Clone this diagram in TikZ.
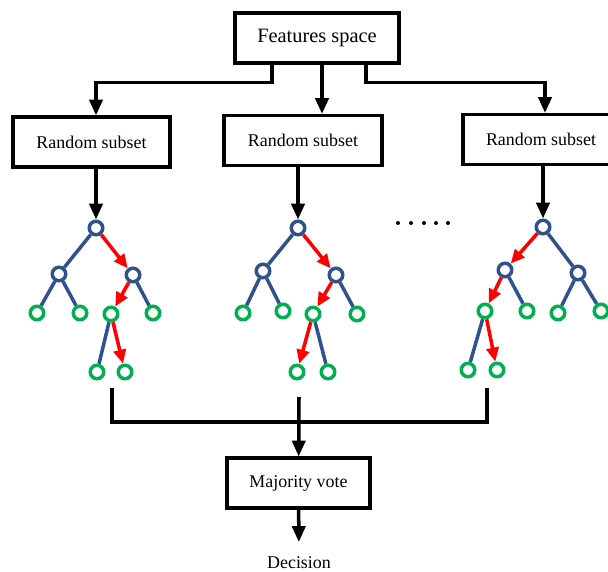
\documentclass[tikz,border=0pt]{standalone}
\usepackage{fontspec}
\setmainfont{Liberation Serif}
\usetikzlibrary{arrows.meta, positioning}
\definecolor{treeblue}{RGB}{47,82,143}
\definecolor{leafgreen}{RGB}{0,176,80}
\definecolor{pathred}{RGB}{255,0,0}

\tikzset{
  box/.style={draw, line width=1.8pt, minimum height=1cm, inner sep=0pt, font=\fontsize{10.2}{12}\selectfont},
  arrow/.style={line width=2pt, -{Triangle[width=7.5pt, length=9pt]}},
  conn/.style={line width=2pt},
  inode/.style={circle, draw=treeblue, line width=2pt, minimum size=0.27cm, inner sep=0pt},
  leaf/.style={circle, draw=leafgreen, line width=2pt, minimum size=0.27cm, inner sep=0pt},
  branch/.style={treeblue, line width=2pt},
  redpath/.style={pathred, line width=2pt, -{Triangle[width=7pt, length=8pt]}}
}

\begin{document}
\begin{tikzpicture}[x=0.02cm, y=-0.02cm]
  \useasboundingbox (0,0) rectangle (608,571);
  % Boxes
  \node[box, minimum width=3.28cm, font=\fontsize{11.6}{14}\selectfont] (feat) at (317,38) {Features space};
  \node[box, minimum width=3.14cm] (sub1) at (91.5,142) {Random subset};
  \node[box, minimum width=3.16cm] (sub2) at (303,140.5) {Random subset};
  \node[box, minimum width=3.12cm] (sub3) at (541,139.5) {Random subset};
  \node[box, minimum width=2.86cm] (vote) at (298.5,483) {Majority vote};
  \node[font=\fontsize{10.2}{12}\selectfont] (dec) at (299,563) {Decision};

  % Tree nodes
  \foreach \n/\x/\y in {t1r/96/228, t1a/59/274, t1b/133/275,
                        t2r/298/228, t2a/263/271, t2b/336/275,
                        t3r/543/227, t3a/505/270, t3b/578/273}
    \node[inode] (\n) at (\x,\y) {};
  \foreach \n/\x/\y in {t1c/37/313, t1d/80/313, t1e/111/314, t1f/153/313, t1g/97/372, t1h/125/372,
                        t2c/243/313, t2d/283/311, t2e/313/314, t2f/357/314, t2g/297/372, t2h/328/372,
                        t3c/485/311, t3d/527/311, t3e/558/313, t3f/601/311, t3g/468/370, t3h/497/370}
    \node[leaf] (\n) at (\x,\y) {};

  % Branches
  \foreach \a/\b in {t1r/t1a, t1a/t1c, t1a/t1d, t1b/t1f, t1e/t1g,
                     t2r/t2a, t2a/t2c, t2a/t2d, t2b/t2f, t2e/t2h,
                     t3r/t3b, t3b/t3e, t3b/t3f, t3a/t3d, t3c/t3g}
    \draw[branch] (\a) -- (\b);
  % Decision paths
  \foreach \a/\b in {t1r/t1b, t1b/t1e, t1e/t1h,
                     t2r/t2b, t2b/t2e, t2e/t2g,
                     t3r/t3a, t3a/t3c, t3c/t3h}
    \draw[redpath] (\a) -- (\b);

  % Feature space to subsets
  \draw[arrow] ([xshift=-0.9cm]feat.south) -- ++(0,18) -| (t1r |- sub1.north);
  \draw[arrow] ([xshift=0.1cm]feat.south) -- ([xshift=0.1cm]feat.south |- sub2.north);
  \draw[arrow] ([xshift=0.98cm]feat.south) -- ++(0,18) -| ([xshift=0.08cm]sub3.north);

  % Subsets to trees
  \draw[arrow] (t1r |- sub1.south) -- (t1r);
  \draw[arrow] (t2r |- sub2.south) -- (t2r);
  \draw[arrow] (t3r |- sub3.south) -- (t3r);

  % Dots
  \foreach \x in {398,411,424,436,448}
    \fill (\x,223) circle (2);

  % Collect to vote
  \coordinate (c1) at (112,388);
  \coordinate (c2) at (299,397);
  \coordinate (cm) at (299,422);
  \coordinate (c3) at (487,388);
  \draw[conn] (c1) |- (cm) -| (c3);
  \draw[arrow] (c2) -- (vote);
  \draw[arrow, shorten >=5pt] (vote) -- (dec);
\end{tikzpicture}
\end{document}
